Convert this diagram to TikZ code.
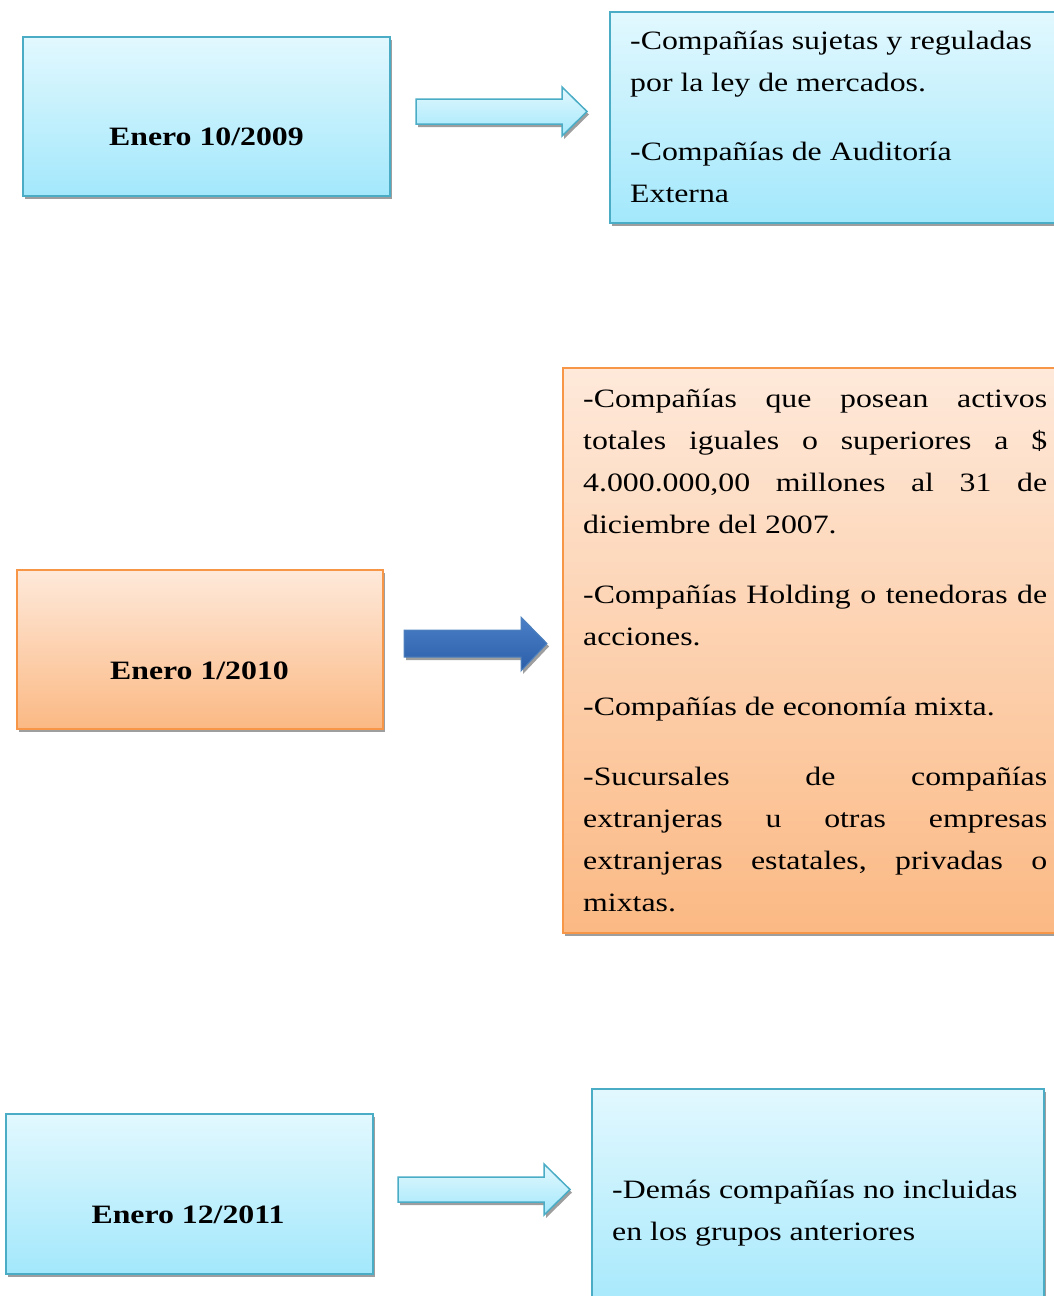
\documentclass[tikz,border=0pt]{standalone}
\usepackage{fontspec}
\setmainfont{Liberation Serif}[FakeStretch=1.2]
\usetikzlibrary{shadows}
\definecolor{cyanline}{HTML}{4BACC6}
\definecolor{cyantop}{HTML}{E2F8FE}
\definecolor{cyanbot}{HTML}{A3E8FC}
\definecolor{orline}{HTML}{F79646}
\definecolor{ortop}{HTML}{FEE9DA}
\definecolor{orbot}{HTML}{FBB984}
\definecolor{bluetop}{HTML}{4A80C8}
\definecolor{bluebot}{HTML}{2C5EA8}
\definecolor{blueline}{HTML}{4F81BD}
\definecolor{shadowgray}{HTML}{9E9E9E}
\begin{document}
\begin{tikzpicture}[x=1pt,y=-1pt,
  myshadow/.style={drop shadow={shadow xshift=2pt, shadow yshift=-3pt, fill=shadowgray, opacity=1}},
  cyanbox/.style={draw=cyanline, line width=1.5pt, top color=cyantop, bottom color=cyanbot, myshadow, inner sep=0pt, anchor=north west},
  orbox/.style={draw=orline, line width=1.5pt, top color=ortop, bottom color=orbot, myshadow, inner sep=0pt, anchor=north west},
  cyanarrow/.style={draw=cyanline, line width=1.5pt, top color=cyantop, bottom color=cyanbot, myshadow},
  bluearrow/.style={draw=blueline, line width=1pt, top color=bluetop, bottom color=bluebot, myshadow},
  titletxt/.style={font=\fontsize{26.5}{42}\selectfont\bfseries, inner sep=0pt, anchor=base},
  bodytxt/.style={font=\fontsize{26.5}{42}\selectfont, inner sep=0pt, anchor=base west, align=left}
]
\useasboundingbox (0,0) rectangle (1054,1296);
\clip (0,0) rectangle (1054,1296);
% boxes
\node[cyanbox, minimum width=367pt, minimum height=159pt] (boxA) at (22,36) {};
\node[cyanbox, minimum width=460pt, minimum height=211pt] (boxB) at (609,11) {};
\node[orbox, minimum width=366pt, minimum height=159pt] (boxC) at (16,569) {};
\node[orbox, minimum width=500pt, minimum height=565pt] (boxD) at (562,367) {};
\node[cyanbox, minimum width=367pt, minimum height=160pt] (boxE) at (5,1113) {};
\node[cyanbox, minimum width=452pt, minimum height=230pt] (boxF) at (591,1088) {};
% arrows
\draw[cyanarrow] (416,99) -- (562,99) -- (562,87) -- (587,111.5) -- (562,136) -- (562,124) -- (416,124) -- cycle;
\draw[bluearrow] (404,630) -- (521,630) -- (521,617) -- (547,643.5) -- (521,671) -- (521,657) -- (404,657) -- cycle;
\draw[cyanarrow] (398,1177) -- (544,1177) -- (544,1164) -- (570,1189.5) -- (544,1215) -- (544,1202) -- (398,1202) -- cycle;
% titles
\node[titletxt] (tA) at (206.5,145) {Enero 10/2009};
\node[titletxt] (tC) at (199.5,679) {Enero 1/2010};
\node[titletxt] (tE) at (188,1223) {Enero 12/2011};
% body texts (anchored at the baseline of the last line)
\node[bodytxt] (txB) at (630,202) {-Compañías sujetas y reguladas\\
por la ley de mercados.\\[27pt]
-Compañías de Auditoría\\
Externa};
\node[bodytxt] (txD) at (583,911) {\hbox to 464pt{-Compañías\hfill que\hfill posean\hfill activos}\\
\hbox to 464pt{totales\hfill iguales\hfill o\hfill superiores\hfill a\hfill \$}\\
\hbox to 464pt{4.000.000,00\hfill millones\hfill al\hfill 31\hfill de}\\
diciembre del 2007.\\[28pt]
\hbox to 464pt{-Compañías Holding o tenedoras de}\\
acciones.\\[28pt]
-Compañías de economía mixta.\\[28pt]
\hbox to 464pt{-Sucursales\hfill de\hfill compañías}\\
\hbox to 464pt{extranjeras\hfill u\hfill otras\hfill empresas}\\
\hbox to 464pt{extranjeras\hfill estatales,\hfill privadas\hfill o}\\
mixtas.};
\node[bodytxt] (txF) at (612,1240) {-Demás compañías no incluidas\\
en los grupos anteriores};
\end{tikzpicture}
\end{document}
